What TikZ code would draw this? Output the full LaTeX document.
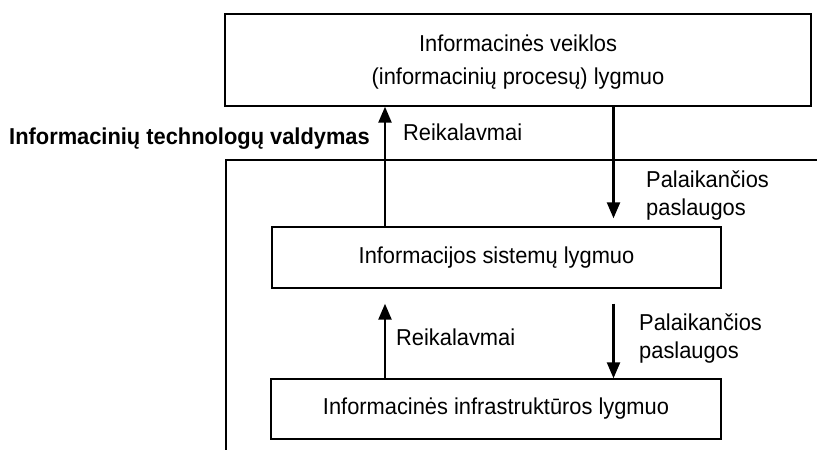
\documentclass[tikz,border=0pt]{standalone}
\usepackage{fontspec}
\setmainfont{Liberation Sans}[FakeStretch=0.95]
\usetikzlibrary{arrows.meta}
% two left-aligned lines whose baseline is the first line
\newcommand\twolines[2]{\begin{tabular}[t]{@{}l@{}}#1\\#2\end{tabular}}
\begin{document}
\begin{tikzpicture}[x=1pt,y=-1pt,
  level/.style={draw, line width=1.4pt, inner sep=0pt, align=center,
    font=\fontsize{23}{33}\selectfont},
  lbl/.style={inner sep=0pt, anchor=base west, font=\fontsize{23}{28}\selectfont},
  flow/.style={line width=2.4pt, -{Triangle[length=16pt,width=13pt]}},
  framing/.style={line width=1.8pt}]
\useasboundingbox (0,0) rectangle (817,450);

% the three levels
\node[level, minimum width=586pt, minimum height=92pt, text depth=0pt]
  (veikla) at (518,60) {Informacinės veiklos\\(informacinių procesų) lygmuo};
\node[level, minimum width=449pt, minimum height=61pt,
  text height=16.5pt, text depth=5.5pt]
  (sistemos) at (496.5,257.5) {Informacijos sistemų lygmuo};
\node[level, minimum width=450pt, minimum height=60pt,
  text height=16.5pt, text depth=5.5pt]
  (infra) at (496,409) {Informacinės infrastruktūros lygmuo};

% boundary of IT management
\coordinate (frametop) at (226,160);
\coordinate (frameend) at (817,160);
\coordinate (framebottom) at (226,450);
\draw[framing] (framebottom) -- (frametop) -- (frameend);
\node[inner sep=0pt, anchor=base west, font=\bfseries\fontsize{23}{28}\selectfont]
  (itv) at (9,144) {Informacinių technologų valdymas};

% requirements go up, services come down
\coordinate (xl) at (385,0);
\coordinate (xr) at (613.5,0);
\draw[flow] (sistemos.north -| xl) -- (veikla.south -| xl);
\draw[flow, shorten >=8pt] (veikla.south -| xr) -- (sistemos.north -| xr);
\draw[flow, shorten >=15pt] (infra.north -| xl) -- (sistemos.south -| xl);
\draw[flow, shorten <=15pt] (sistemos.south -| xr) -- (infra.north -| xr);

\node[lbl] (req1) at (403,140) {Reikalavmai};
\node[lbl] (req2) at (396,345) {Reikalavmai};
\node[lbl] (svc1) at (646,187) {\twolines{Palaikančios}{paslaugos}};
\node[lbl] (svc2) at (639,330) {\twolines{Palaikančios}{paslaugos}};
\end{tikzpicture}
\end{document}
